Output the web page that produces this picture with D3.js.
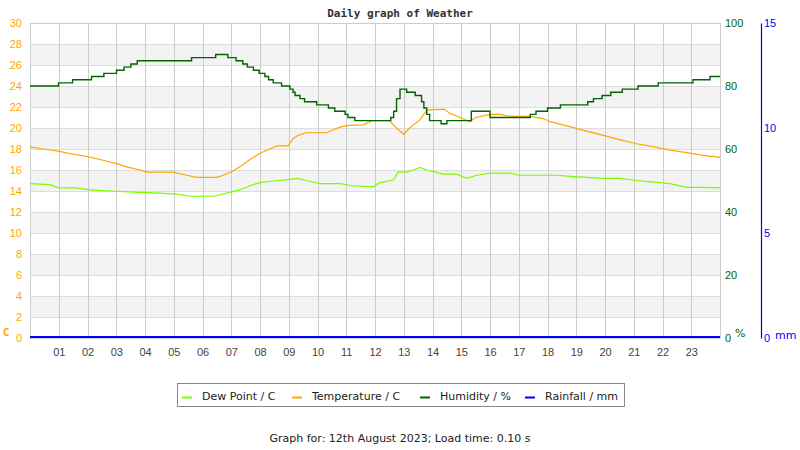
<!DOCTYPE html>
<html>
<head>
<meta charset="utf-8">
<script src="https://cdn.jsdelivr.net/npm/d3@7"></script>
<style>
  body { margin: 0; background: #fff; }
  svg { display: block; font-family: "DejaVu Sans", sans-serif; }
</style>
</head>
<body>
<div id="wrapper"></div>
<script>
// humidity is logged as whole-percent steps
const humidityHours = [0, 0.99, 1.48, 2.14, 2.57, 3.01, 3.27, 3.51, 3.73, 5.62, 6.46, 6.88, 7.17, 7.4, 7.56, 7.77, 7.97, 8.17, 8.3, 8.46, 8.75, 9.04, 9.15, 9.22, 9.39, 9.55, 9.97, 10.38, 10.6, 10.96, 11.06, 11.3, 12.55, 12.65, 12.75, 12.87, 13.1, 13.4, 13.62, 13.7, 13.8, 13.9, 14.3, 14.5, 15.35, 16.0, 17.4, 17.6, 18.0, 18.45, 19.4, 19.6, 19.9, 20.2, 20.6, 21.15, 21.85, 23.06, 23.65, 24]
const humidityValues = [80, 81, 82, 83, 84, 85, 86, 87, 88, 89, 90, 89, 88, 87, 86, 85, 84, 83, 82, 81, 80, 79, 78, 77, 76, 75, 74, 73, 72, 71, 70, 69, 70, 72, 76, 79, 78, 77, 75, 73, 71, 69, 68, 69, 72, 70, 71, 72, 73, 74, 75, 76, 77, 78, 79, 80, 81, 82, 83, 83]

const temperatureHours = [0, 0.46, 0.98, 1.5, 1.97, 2.43, 3.01, 3.36, 3.83, 4.06, 4.98, 5.45, 5.8, 6.5, 6.72, 7.07, 7.3, 7.65, 8.0, 8.35, 8.6, 8.97, 9.16, 9.33, 9.6, 10.3, 10.8, 11.1, 11.6, 11.9, 12.5, 12.75, 13.0, 13.2, 13.57, 13.8, 14.4, 14.6, 14.96, 15.3, 15.5, 16.0, 16.35, 16.7, 17.4, 17.85, 18.1, 18.8, 19.36, 19.94, 20.5, 21.1, 21.7, 22.26, 22.84, 23.42, 24]
const temperatureValues = [18.2, 18.0, 17.8, 17.5, 17.3, 17.0, 16.6, 16.3, 16.0, 15.8, 15.8, 15.5, 15.3, 15.3, 15.5, 15.9, 16.3, 17.0, 17.6, 18.0, 18.3, 18.3, 19.0, 19.3, 19.55, 19.55, 20.1, 20.25, 20.3, 20.7, 20.7, 20.0, 19.4, 20.0, 20.8, 21.7, 21.8, 21.4, 21.0, 20.6, 21.0, 21.3, 21.3, 21.1, 21.1, 20.9, 20.6, 20.1, 19.7, 19.3, 18.9, 18.5, 18.2, 17.9, 17.65, 17.4, 17.2]

const dewPointHours = [0, 0.7, 0.98, 1.6, 2.1, 2.8, 3.6, 4.5, 5.1, 5.6, 6.4, 6.84, 7.3, 7.65, 8.0, 8.46, 9.04, 9.3, 9.6, 10.1, 10.8, 11.2, 11.94, 12.17, 12.64, 12.8, 13.1, 13.33, 13.57, 13.8, 14.03, 14.38, 14.84, 15.19, 15.54, 16.0, 16.7, 17.0, 18.3, 18.8, 19.36, 19.94, 20.5, 21.1, 21.7, 22.26, 22.84, 23.42, 24]
const dewPointValues = [14.7, 14.6, 14.3, 14.3, 14.1, 14.0, 13.9, 13.8, 13.7, 13.5, 13.5, 13.8, 14.1, 14.5, 14.8, 14.95, 15.1, 15.2, 15.0, 14.7, 14.7, 14.5, 14.4, 14.8, 15.05, 15.8, 15.8, 16.0, 16.25, 16.0, 15.85, 15.6, 15.6, 15.2, 15.5, 15.7, 15.7, 15.5, 15.5, 15.4, 15.3, 15.2, 15.2, 15.0, 14.85, 14.7, 14.35, 14.35, 14.3]

const rainfallHours = [0, 24]
const rainfallValues = [0, 0]

const hourTicks = d3.range(1, 24)
const tempTicks = d3.range(0, 31, 2)
const humidityTicks = d3.range(0, 101, 20)
const rainTicks = [0, 5, 10, 15]

const legendLabels = ["Dew Point / C", "Temperature / C", "Humidity / %", "Rainfall / mm"]
const legendColors = ["#7cfc00", "#ffa500", "#006400", "#0000ff"]

function drawChart() {
  // 1. Dimensions
  const dimensions = {
    width: 800,
    height: 450,
    margins: { top: 23, right: 80, bottom: 112, left: 30 },
  }
  dimensions.boundedWidth =
    dimensions.width - dimensions.margins.left - dimensions.margins.right
  dimensions.boundedHeight =
    dimensions.height - dimensions.margins.top - dimensions.margins.bottom

  // 2. Canvas
  const wrapper = d3
    .select("#wrapper")
    .append("svg")
    .attr("width", dimensions.width)
    .attr("height", dimensions.height)

  const bounds = wrapper
    .append("g")
    .attr("transform", `translate(${dimensions.margins.left},${dimensions.margins.top})`)

  // 3. Scales
  const xScale = d3.scaleLinear().domain([0, 24]).range([0, dimensions.boundedWidth])
  const tempScale = d3.scaleLinear().domain([0, 30]).range([dimensions.boundedHeight, 0])
  const humidityScale = d3.scaleLinear().domain([0, 100]).range([dimensions.boundedHeight, 0])
  const rainScale = d3.scaleLinear().domain([0, 15]).range([dimensions.boundedHeight, 0])

  // 4. Background bands and grid
  const bands = d3.range(2, 30, 4)
  bounds
    .append("g")
    .selectAll("rect")
    .data(bands)
    .join("rect")
    .attr("x", 0)
    .attr("y", (d) => tempScale(d + 2))
    .attr("width", dimensions.boundedWidth)
    .attr("height", (d) => tempScale(d) - tempScale(d + 2))
    .attr("fill", "#f3f3f3")

  bounds
    .append("g")
    .selectAll("line")
    .data(tempTicks)
    .join("line")
    .attr("x1", 0)
    .attr("x2", dimensions.boundedWidth)
    .attr("y1", (d) => Math.round(tempScale(d)) + 0.5)
    .attr("y2", (d) => Math.round(tempScale(d)) + 0.5)
    .attr("stroke", "#dddddd")

  bounds
    .append("g")
    .selectAll("line")
    .data(hourTicks)
    .join("line")
    .attr("x1", (d) => Math.round(xScale(d)) + 0.5)
    .attr("x2", (d) => Math.round(xScale(d)) + 0.5)
    .attr("y1", 0)
    .attr("y2", dimensions.boundedHeight)
    .attr("stroke", "#cccccc")

  // plot frame
  bounds
    .append("rect")
    .attr("x", 0.5)
    .attr("y", 0.5)
    .attr("width", dimensions.boundedWidth)
    .attr("height", dimensions.boundedHeight)
    .attr("fill", "none")
    .attr("stroke", "#cccccc")

  // 5. Data lines
  const makeLine = (hours, values, yScale, curve) =>
    d3
      .line()
      .x((d, i) => xScale(hours[i]))
      .y((d) => yScale(d))
      .curve(curve)(values)

  const series = [
    { hours: dewPointHours, values: dewPointValues, scale: tempScale, color: legendColors[0], curve: d3.curveLinear, width: 1.2 },
    { hours: temperatureHours, values: temperatureValues, scale: tempScale, color: legendColors[1], curve: d3.curveLinear, width: 1.2 },
    { hours: humidityHours, values: humidityValues, scale: humidityScale, color: legendColors[2], curve: d3.curveStepAfter, width: 1.4 },
    { hours: rainfallHours, values: rainfallValues, scale: rainScale, color: legendColors[3], curve: d3.curveLinear, width: 2 },
  ]

  bounds
    .append("g")
    .selectAll("path")
    .data(series)
    .join("path")
    .attr("d", (s) => makeLine(s.hours, s.values, s.scale, s.curve))
    .attr("fill", "none")
    .attr("stroke", (s) => s.color)
    .attr("stroke-width", (s) => s.width)
    .attr("transform", (s) => (s.scale === rainScale ? "translate(0,-1)" : null))

  // 6. Axes
  const xAxis = bounds
    .append("g")
    .attr("transform", `translate(0,${dimensions.boundedHeight})`)
    .call(d3.axisBottom(xScale).tickValues(hourTicks).tickFormat(d3.format("02d")).tickSize(0).tickPadding(10))
  xAxis.select(".domain").remove()
  xAxis.selectAll("text").attr("fill", "#444").style("font-size", "11px")

  const tempAxis = bounds
    .append("g")
    .call(d3.axisLeft(tempScale).tickValues(tempTicks).tickSize(0).tickPadding(8))
  tempAxis.select(".domain").remove()
  tempAxis.selectAll("text").attr("fill", "#ffa500").style("font-size", "11px")

  const humidityAxis = bounds
    .append("g")
    .attr("transform", `translate(${dimensions.boundedWidth},0)`)
    .call(d3.axisRight(humidityScale).tickValues(humidityTicks).tickSize(0).tickPadding(5))
  humidityAxis.select(".domain").remove()
  humidityAxis.selectAll("text").attr("fill", "#006400").style("font-size", "11px")

  const rainAxis = bounds
    .append("g")
    .attr("transform", `translate(${dimensions.boundedWidth + 41},0)`)
    .call(d3.axisRight(rainScale).tickValues(rainTicks).tickSize(0).tickPadding(3).tickSizeOuter(0))
  rainAxis.select(".domain").attr("stroke", "#0000ff").attr("stroke-width", 1.2)
  rainAxis.selectAll("text").attr("fill", "#0000ff").style("font-size", "11px")

  // unit labels
  wrapper
    .append("text")
    .text("C")
    .attr("x", 6)
    .attr("y", dimensions.margins.top + dimensions.boundedHeight - 2)
    .attr("text-anchor", "middle")
    .style("font-family", "'DejaVu Sans Mono', monospace")
    .style("font-weight", "bold")
    .style("font-size", "11px")
    .attr("fill", "#ffa500")

  wrapper
    .append("text")
    .text("%")
    .attr("x", 735)
    .attr("y", dimensions.margins.top + dimensions.boundedHeight - 1)
    .style("font-size", "11px")
    .attr("fill", "#006400")

  wrapper
    .append("text")
    .text("mm")
    .attr("x", 775)
    .attr("y", dimensions.margins.top + dimensions.boundedHeight + 1)
    .style("font-size", "11px")
    .attr("fill", "#0000ff")

  // 7. Title and footer
  wrapper
    .append("text")
    .text("Daily graph of Weather")
    .attr("x", 400)
    .attr("y", 17)
    .attr("text-anchor", "middle")
    .style("font-family", "'DejaVu Sans Mono', monospace")
    .style("font-weight", "bold")
    .style("font-size", "11px")
    .attr("fill", "#333")

  wrapper
    .append("text")
    .text("Graph for: 12th August 2023; Load time: 0.10 s")
    .attr("x", 400)
    .attr("y", 442)
    .attr("text-anchor", "middle")
    .style("font-size", "11px")
    .attr("fill", "#222")

  // 8. Legend
  const legendX = [202, 312, 440, 545]
  const legend = wrapper.append("g")

  legend
    .append("rect")
    .attr("x", 177.5)
    .attr("y", 383.5)
    .attr("width", 447)
    .attr("height", 23)
    .attr("fill", "#fff")
    .attr("stroke", "#888")

  const items = legend
    .selectAll("g")
    .data(legendLabels)
    .join("g")
    .attr("transform", (d, i) => `translate(${legendX[i]},0)`)

  items
    .append("line")
    .attr("x1", -20)
    .attr("x2", -10)
    .attr("y1", 397.5)
    .attr("y2", 397.5)
    .attr("stroke", (d, i) => legendColors[i])
    .attr("stroke-width", 2)

  items
    .append("text")
    .text((d) => d)
    .attr("x", 0)
    .attr("y", 400)
    .style("font-size", "11px")
    .attr("fill", "#222")
}

drawChart()
</script>
</body>
</html>
